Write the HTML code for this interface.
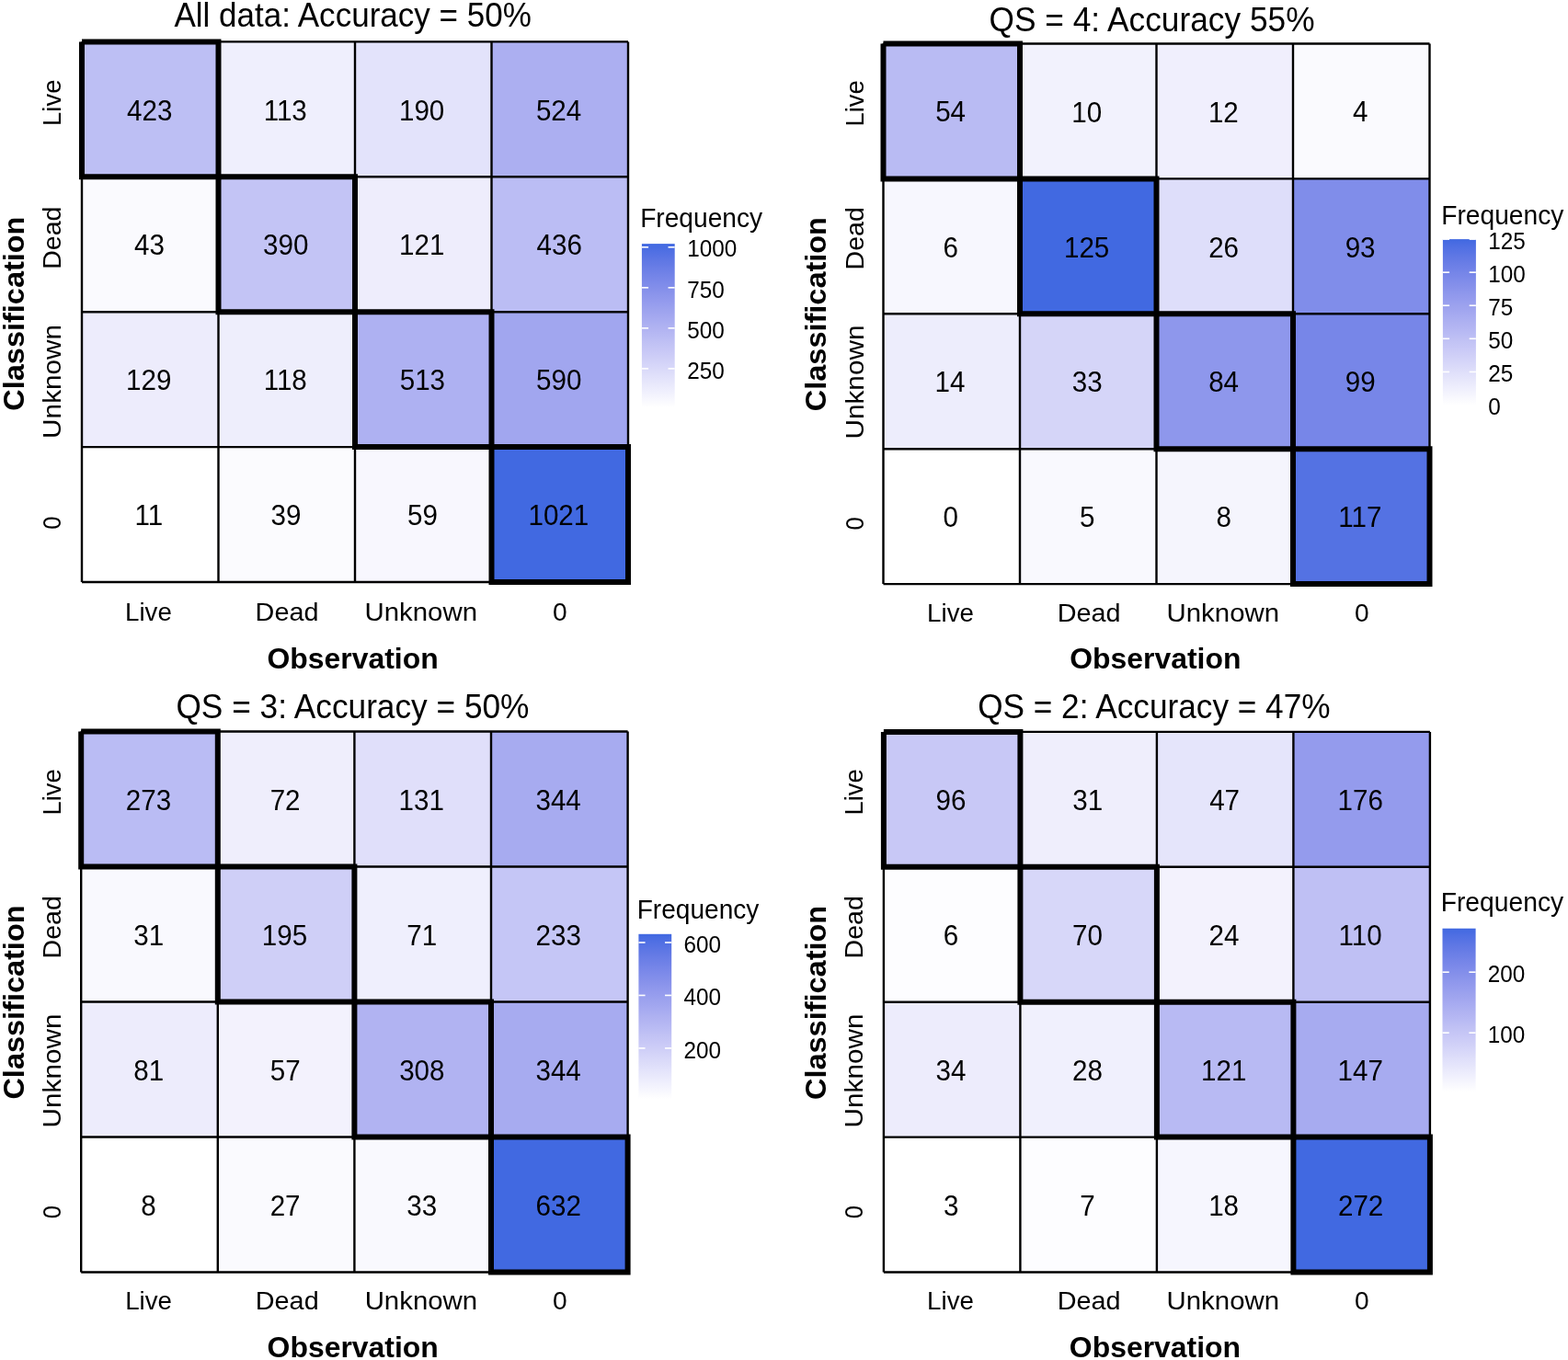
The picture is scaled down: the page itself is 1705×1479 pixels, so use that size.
<!DOCTYPE html>
<html><head><meta charset="utf-8"><title>Confusion matrices</title><style>
html,body{margin:0;padding:0;background:#fff;}
svg{display:block;}
text{font-family:'Liberation Sans',sans-serif;fill:#000;}
text.b{font-weight:bold;}
.grid line{stroke:#000;stroke-width:2.4;}
.grid path.tk{fill:none;stroke:#000;stroke-width:6.0;stroke-linejoin:miter;stroke-linecap:butt;}
.tick line{stroke:#fff;stroke-width:1.6;}
</style></head>
<body><svg width="1705" height="1479" viewBox="0 0 1705 1479">
<defs><linearGradient id="grad_p1" x1="0" y1="0" x2="0" y2="1"><stop offset="0.000" stop-color="#4169e1"/><stop offset="0.025" stop-color="#496ce2"/><stop offset="0.050" stop-color="#5170e3"/><stop offset="0.075" stop-color="#5773e4"/><stop offset="0.100" stop-color="#5e77e4"/><stop offset="0.125" stop-color="#647ae5"/><stop offset="0.150" stop-color="#6a7ee6"/><stop offset="0.175" stop-color="#6f81e7"/><stop offset="0.200" stop-color="#7585e8"/><stop offset="0.225" stop-color="#7a88e9"/><stop offset="0.250" stop-color="#7f8cea"/><stop offset="0.275" stop-color="#848fea"/><stop offset="0.300" stop-color="#8993eb"/><stop offset="0.325" stop-color="#8e97ec"/><stop offset="0.350" stop-color="#939aed"/><stop offset="0.375" stop-color="#979eee"/><stop offset="0.400" stop-color="#9ca2ee"/><stop offset="0.425" stop-color="#a0a5ef"/><stop offset="0.450" stop-color="#a5a9f0"/><stop offset="0.475" stop-color="#a9adf1"/><stop offset="0.500" stop-color="#aeb1f1"/><stop offset="0.525" stop-color="#b2b4f2"/><stop offset="0.550" stop-color="#b6b8f3"/><stop offset="0.575" stop-color="#babcf4"/><stop offset="0.600" stop-color="#bfc0f4"/><stop offset="0.625" stop-color="#c3c4f5"/><stop offset="0.650" stop-color="#c7c7f6"/><stop offset="0.675" stop-color="#cbcbf7"/><stop offset="0.700" stop-color="#cfcff7"/><stop offset="0.725" stop-color="#d3d3f8"/><stop offset="0.750" stop-color="#d7d7f9"/><stop offset="0.775" stop-color="#dbdbf9"/><stop offset="0.800" stop-color="#dfdffa"/><stop offset="0.825" stop-color="#e3e3fb"/><stop offset="0.850" stop-color="#e7e7fb"/><stop offset="0.875" stop-color="#ebebfc"/><stop offset="0.900" stop-color="#efeffd"/><stop offset="0.925" stop-color="#f3f3fd"/><stop offset="0.950" stop-color="#f7f7fe"/><stop offset="0.975" stop-color="#fbfbfe"/><stop offset="1.000" stop-color="#ffffff"/></linearGradient><linearGradient id="grad_p2" x1="0" y1="0" x2="0" y2="1"><stop offset="0.000" stop-color="#4169e1"/><stop offset="0.025" stop-color="#496ce2"/><stop offset="0.050" stop-color="#5170e3"/><stop offset="0.075" stop-color="#5773e4"/><stop offset="0.100" stop-color="#5e77e4"/><stop offset="0.125" stop-color="#647ae5"/><stop offset="0.150" stop-color="#6a7ee6"/><stop offset="0.175" stop-color="#6f81e7"/><stop offset="0.200" stop-color="#7585e8"/><stop offset="0.225" stop-color="#7a88e9"/><stop offset="0.250" stop-color="#7f8cea"/><stop offset="0.275" stop-color="#848fea"/><stop offset="0.300" stop-color="#8993eb"/><stop offset="0.325" stop-color="#8e97ec"/><stop offset="0.350" stop-color="#939aed"/><stop offset="0.375" stop-color="#979eee"/><stop offset="0.400" stop-color="#9ca2ee"/><stop offset="0.425" stop-color="#a0a5ef"/><stop offset="0.450" stop-color="#a5a9f0"/><stop offset="0.475" stop-color="#a9adf1"/><stop offset="0.500" stop-color="#aeb1f1"/><stop offset="0.525" stop-color="#b2b4f2"/><stop offset="0.550" stop-color="#b6b8f3"/><stop offset="0.575" stop-color="#babcf4"/><stop offset="0.600" stop-color="#bfc0f4"/><stop offset="0.625" stop-color="#c3c4f5"/><stop offset="0.650" stop-color="#c7c7f6"/><stop offset="0.675" stop-color="#cbcbf7"/><stop offset="0.700" stop-color="#cfcff7"/><stop offset="0.725" stop-color="#d3d3f8"/><stop offset="0.750" stop-color="#d7d7f9"/><stop offset="0.775" stop-color="#dbdbf9"/><stop offset="0.800" stop-color="#dfdffa"/><stop offset="0.825" stop-color="#e3e3fb"/><stop offset="0.850" stop-color="#e7e7fb"/><stop offset="0.875" stop-color="#ebebfc"/><stop offset="0.900" stop-color="#efeffd"/><stop offset="0.925" stop-color="#f3f3fd"/><stop offset="0.950" stop-color="#f7f7fe"/><stop offset="0.975" stop-color="#fbfbfe"/><stop offset="1.000" stop-color="#ffffff"/></linearGradient><linearGradient id="grad_p3" x1="0" y1="0" x2="0" y2="1"><stop offset="0.000" stop-color="#4169e1"/><stop offset="0.025" stop-color="#496ce2"/><stop offset="0.050" stop-color="#5170e3"/><stop offset="0.075" stop-color="#5773e4"/><stop offset="0.100" stop-color="#5e77e4"/><stop offset="0.125" stop-color="#647ae5"/><stop offset="0.150" stop-color="#6a7ee6"/><stop offset="0.175" stop-color="#6f81e7"/><stop offset="0.200" stop-color="#7585e8"/><stop offset="0.225" stop-color="#7a88e9"/><stop offset="0.250" stop-color="#7f8cea"/><stop offset="0.275" stop-color="#848fea"/><stop offset="0.300" stop-color="#8993eb"/><stop offset="0.325" stop-color="#8e97ec"/><stop offset="0.350" stop-color="#939aed"/><stop offset="0.375" stop-color="#979eee"/><stop offset="0.400" stop-color="#9ca2ee"/><stop offset="0.425" stop-color="#a0a5ef"/><stop offset="0.450" stop-color="#a5a9f0"/><stop offset="0.475" stop-color="#a9adf1"/><stop offset="0.500" stop-color="#aeb1f1"/><stop offset="0.525" stop-color="#b2b4f2"/><stop offset="0.550" stop-color="#b6b8f3"/><stop offset="0.575" stop-color="#babcf4"/><stop offset="0.600" stop-color="#bfc0f4"/><stop offset="0.625" stop-color="#c3c4f5"/><stop offset="0.650" stop-color="#c7c7f6"/><stop offset="0.675" stop-color="#cbcbf7"/><stop offset="0.700" stop-color="#cfcff7"/><stop offset="0.725" stop-color="#d3d3f8"/><stop offset="0.750" stop-color="#d7d7f9"/><stop offset="0.775" stop-color="#dbdbf9"/><stop offset="0.800" stop-color="#dfdffa"/><stop offset="0.825" stop-color="#e3e3fb"/><stop offset="0.850" stop-color="#e7e7fb"/><stop offset="0.875" stop-color="#ebebfc"/><stop offset="0.900" stop-color="#efeffd"/><stop offset="0.925" stop-color="#f3f3fd"/><stop offset="0.950" stop-color="#f7f7fe"/><stop offset="0.975" stop-color="#fbfbfe"/><stop offset="1.000" stop-color="#ffffff"/></linearGradient><linearGradient id="grad_p4" x1="0" y1="0" x2="0" y2="1"><stop offset="0.000" stop-color="#4169e1"/><stop offset="0.025" stop-color="#496ce2"/><stop offset="0.050" stop-color="#5170e3"/><stop offset="0.075" stop-color="#5773e4"/><stop offset="0.100" stop-color="#5e77e4"/><stop offset="0.125" stop-color="#647ae5"/><stop offset="0.150" stop-color="#6a7ee6"/><stop offset="0.175" stop-color="#6f81e7"/><stop offset="0.200" stop-color="#7585e8"/><stop offset="0.225" stop-color="#7a88e9"/><stop offset="0.250" stop-color="#7f8cea"/><stop offset="0.275" stop-color="#848fea"/><stop offset="0.300" stop-color="#8993eb"/><stop offset="0.325" stop-color="#8e97ec"/><stop offset="0.350" stop-color="#939aed"/><stop offset="0.375" stop-color="#979eee"/><stop offset="0.400" stop-color="#9ca2ee"/><stop offset="0.425" stop-color="#a0a5ef"/><stop offset="0.450" stop-color="#a5a9f0"/><stop offset="0.475" stop-color="#a9adf1"/><stop offset="0.500" stop-color="#aeb1f1"/><stop offset="0.525" stop-color="#b2b4f2"/><stop offset="0.550" stop-color="#b6b8f3"/><stop offset="0.575" stop-color="#babcf4"/><stop offset="0.600" stop-color="#bfc0f4"/><stop offset="0.625" stop-color="#c3c4f5"/><stop offset="0.650" stop-color="#c7c7f6"/><stop offset="0.675" stop-color="#cbcbf7"/><stop offset="0.700" stop-color="#cfcff7"/><stop offset="0.725" stop-color="#d3d3f8"/><stop offset="0.750" stop-color="#d7d7f9"/><stop offset="0.775" stop-color="#dbdbf9"/><stop offset="0.800" stop-color="#dfdffa"/><stop offset="0.825" stop-color="#e3e3fb"/><stop offset="0.850" stop-color="#e7e7fb"/><stop offset="0.875" stop-color="#ebebfc"/><stop offset="0.900" stop-color="#efeffd"/><stop offset="0.925" stop-color="#f3f3fd"/><stop offset="0.950" stop-color="#f7f7fe"/><stop offset="0.975" stop-color="#fbfbfe"/><stop offset="1.000" stop-color="#ffffff"/></linearGradient></defs>
<rect width="1705" height="1479" fill="#fff"/>
<g class="grid"><rect x="89" y="45.4" width="148.5" height="146.9" fill="#bdbff4"/><rect x="237.5" y="45.4" width="148.5" height="146.9" fill="#efeffd"/><rect x="386" y="45.4" width="148.5" height="146.9" fill="#e3e3fb"/><rect x="534.5" y="45.4" width="148.5" height="146.9" fill="#acaff1"/><rect x="89" y="192.3" width="148.5" height="146.9" fill="#fafafe"/><rect x="237.5" y="192.3" width="148.5" height="146.9" fill="#c3c4f5"/><rect x="386" y="192.3" width="148.5" height="146.9" fill="#eeedfc"/><rect x="534.5" y="192.3" width="148.5" height="146.9" fill="#bbbdf4"/><rect x="89" y="339.2" width="148.5" height="146.9" fill="#edecfc"/><rect x="237.5" y="339.2" width="148.5" height="146.9" fill="#eeeefc"/><rect x="386" y="339.2" width="148.5" height="146.9" fill="#aeb1f2"/><rect x="534.5" y="339.2" width="148.5" height="146.9" fill="#a1a6ef"/><rect x="89" y="486.1" width="148.5" height="146.9" fill="#ffffff"/><rect x="237.5" y="486.1" width="148.5" height="146.9" fill="#fbfbfe"/><rect x="386" y="486.1" width="148.5" height="146.9" fill="#f8f7fe"/><rect x="534.5" y="486.1" width="148.5" height="146.9" fill="#4169e1"/><line x1="89" y1="45.4" x2="89" y2="633"/><line x1="89" y1="45.4" x2="683" y2="45.4"/><line x1="237.5" y1="45.4" x2="237.5" y2="633"/><line x1="89" y1="192.3" x2="683" y2="192.3"/><line x1="386" y1="45.4" x2="386" y2="633"/><line x1="89" y1="339.2" x2="683" y2="339.2"/><line x1="534.5" y1="45.4" x2="534.5" y2="633"/><line x1="89" y1="486.1" x2="683" y2="486.1"/><line x1="683" y1="45.4" x2="683" y2="633"/><line x1="89" y1="633" x2="683" y2="633"/><path class="tk" d="M89 45.4H237.5V192.3H89V45.4"/><path class="tk" d="M237.5 192.3H386V339.2H237.5V192.3"/><path class="tk" d="M386 339.2H534.5V486.1H386V339.2"/><path class="tk" d="M534.5 486.1H683V633H534.5V486.1"/></g>
<text class="n" style="font-size:29.6px" transform="translate(137.98 130.52) scale(1.0000 1.0300)">423</text>
<text class="n" style="font-size:29.6px" transform="translate(286.63 130.52) scale(1.0000 1.0300)">113</text>
<text class="n" style="font-size:29.6px" transform="translate(433.94 130.52) scale(1.0000 1.0300)">190</text>
<text class="n" style="font-size:29.6px" transform="translate(582.89 130.52) scale(1.0000 1.0300)">524</text>
<text class="n" style="font-size:29.6px" transform="translate(146.12 277.42) scale(1.0000 1.0300)">43</text>
<text class="n" style="font-size:29.6px" transform="translate(286.03 277.42) scale(1.0000 1.0300)">390</text>
<text class="n" style="font-size:29.6px" transform="translate(434.09 277.42) scale(1.0000 1.0300)">121</text>
<text class="n" style="font-size:29.6px" transform="translate(583.48 277.42) scale(1.0000 1.0300)">436</text>
<text class="n" style="font-size:29.6px" transform="translate(137.09 424.32) scale(1.0000 1.0300)">129</text>
<text class="n" style="font-size:29.6px" transform="translate(286.63 424.32) scale(1.0000 1.0300)">118</text>
<text class="n" style="font-size:29.6px" transform="translate(434.68 424.32) scale(1.0000 1.0300)">513</text>
<text class="n" style="font-size:29.6px" transform="translate(583.03 424.32) scale(1.0000 1.0300)">590</text>
<text class="n" style="font-size:29.6px" transform="translate(146.41 571.07) scale(1.0000 1.0300)">11</text>
<text class="n" style="font-size:29.6px" transform="translate(294.47 571.22) scale(1.0000 1.0300)">39</text>
<text class="n" style="font-size:29.6px" transform="translate(442.97 571.22) scale(1.0000 1.0300)">59</text>
<text class="n" style="font-size:29.6px" transform="translate(574.45 571.22) scale(1.0000 1.0300)">1021</text>
<text class="n" style="font-size:35px" transform="translate(189.4 28.7) scale(1.0012 1.0500)">All data: Accuracy = 50%</text>
<text class="n" style="font-size:28.3px" transform="translate(135.98 674.8) scale(0.9795 1.0000)">Live</text>
<text class="n" style="font-size:28.3px" transform="translate(277.6 674.8) scale(1.0177 1.0000)">Dead</text>
<text class="n" style="font-size:28.3px" transform="translate(396.45 674.8) scale(1.0390 1.0000)">Unknown</text>
<text class="n" style="font-size:28.3px" transform="translate(600.88 674.8) scale(0.9938 1.0000)">0</text>
<text class="n" style="font-size:28.3px" transform="translate(65.6 136.89) rotate(-90) scale(0.9691 1.0000)">Live</text>
<text class="n" style="font-size:28.3px" transform="translate(65.6 292.79) rotate(-90) scale(1.0098 1.0000)">Dead</text>
<text class="n" style="font-size:28.3px" transform="translate(65.6 476.88) rotate(-90) scale(1.0513 1.0000)">Unknown</text>
<text class="n" style="font-size:28.3px" transform="translate(65.6 575.73) rotate(-90) scale(0.9055 1.0000)">0</text>
<text class="b" style="font-size:32px" transform="translate(290.42 726.7) scale(0.9975 1.0000)">Observation</text>
<text class="b" style="font-size:32px" transform="translate(25.6 446.7) rotate(-90) scale(1.0151 1.0000)">Classification</text>
<text class="n" style="font-size:28.3px" transform="translate(696.15 246.6) scale(0.9946 1.0500)">Frequency</text>
<rect x="697.9" y="265.1" width="35.8" height="177.9" fill="url(#grad_p1)"/>
<text class="n" style="font-size:24.3px" transform="translate(747.2 411.6) scale(1 1.04)">250</text>
<text class="n" style="font-size:24.3px" transform="translate(747.2 367.56) scale(1 1.04)">500</text>
<text class="n" style="font-size:24.3px" transform="translate(747.2 323.53) scale(1 1.04)">750</text>
<text class="n" style="font-size:24.3px" transform="translate(747.2 279.49) scale(1 1.04)">1000</text>
<g class="tick"><line x1="697.9" y1="400.9" x2="705.06" y2="400.9"/><line x1="726.54" y1="400.9" x2="733.7" y2="400.9"/><line x1="697.9" y1="356.87" x2="705.06" y2="356.87"/><line x1="726.54" y1="356.87" x2="733.7" y2="356.87"/><line x1="697.9" y1="312.83" x2="705.06" y2="312.83"/><line x1="726.54" y1="312.83" x2="733.7" y2="312.83"/><line x1="697.9" y1="268.8" x2="705.06" y2="268.8"/><line x1="726.54" y1="268.8" x2="733.7" y2="268.8"/></g>
<g class="grid"><rect x="960.5" y="47.5" width="148.5" height="146.9" fill="#b9bbf3"/><rect x="1109" y="47.5" width="148.5" height="146.9" fill="#f2f2fd"/><rect x="1257.5" y="47.5" width="148.5" height="146.9" fill="#f0effd"/><rect x="1406" y="47.5" width="148.5" height="146.9" fill="#fafafe"/><rect x="960.5" y="194.4" width="148.5" height="146.9" fill="#f7f7fe"/><rect x="1109" y="194.4" width="148.5" height="146.9" fill="#4169e1"/><rect x="1257.5" y="194.4" width="148.5" height="146.9" fill="#dedefa"/><rect x="1406" y="194.4" width="148.5" height="146.9" fill="#808dea"/><rect x="960.5" y="341.3" width="148.5" height="146.9" fill="#ededfc"/><rect x="1109" y="341.3" width="148.5" height="146.9" fill="#d5d5f8"/><rect x="1257.5" y="341.3" width="148.5" height="146.9" fill="#8e97ec"/><rect x="1406" y="341.3" width="148.5" height="146.9" fill="#7786e8"/><rect x="960.5" y="488.2" width="148.5" height="146.9" fill="#ffffff"/><rect x="1109" y="488.2" width="148.5" height="146.9" fill="#f9f9fe"/><rect x="1257.5" y="488.2" width="148.5" height="146.9" fill="#f5f5fd"/><rect x="1406" y="488.2" width="148.5" height="146.9" fill="#5472e3"/><line x1="960.5" y1="47.5" x2="960.5" y2="635.1"/><line x1="960.5" y1="47.5" x2="1554.5" y2="47.5"/><line x1="1109" y1="47.5" x2="1109" y2="635.1"/><line x1="960.5" y1="194.4" x2="1554.5" y2="194.4"/><line x1="1257.5" y1="47.5" x2="1257.5" y2="635.1"/><line x1="960.5" y1="341.3" x2="1554.5" y2="341.3"/><line x1="1406" y1="47.5" x2="1406" y2="635.1"/><line x1="960.5" y1="488.2" x2="1554.5" y2="488.2"/><line x1="1554.5" y1="47.5" x2="1554.5" y2="635.1"/><line x1="960.5" y1="635.1" x2="1554.5" y2="635.1"/><path class="tk" d="M960.5 47.5H1109V194.4H960.5V47.5"/><path class="tk" d="M1109 194.4H1257.5V341.3H1109V194.4"/><path class="tk" d="M1257.5 341.3H1406V488.2H1257.5V341.3"/><path class="tk" d="M1406 488.2H1554.5V635.1H1406V488.2"/></g>
<text class="n" style="font-size:29.6px" transform="translate(1017.17 132.47) scale(1.0000 1.0300)">54</text>
<text class="n" style="font-size:29.6px" transform="translate(1165.23 132.62) scale(1.0000 1.0300)">10</text>
<text class="n" style="font-size:29.6px" transform="translate(1313.88 132.62) scale(1.0000 1.0300)">12</text>
<text class="n" style="font-size:29.6px" transform="translate(1471.11 132.47) scale(1.0000 1.0300)">4</text>
<text class="n" style="font-size:29.6px" transform="translate(1025.46 279.52) scale(1.0000 1.0300)">6</text>
<text class="n" style="font-size:29.6px" transform="translate(1156.94 279.52) scale(1.0000 1.0300)">125</text>
<text class="n" style="font-size:29.6px" transform="translate(1314.17 279.52) scale(1.0000 1.0300)">26</text>
<text class="n" style="font-size:29.6px" transform="translate(1462.67 279.52) scale(1.0000 1.0300)">93</text>
<text class="n" style="font-size:29.6px" transform="translate(1016.58 426.27) scale(1.0000 1.0300)">14</text>
<text class="n" style="font-size:29.6px" transform="translate(1165.82 426.42) scale(1.0000 1.0300)">33</text>
<text class="n" style="font-size:29.6px" transform="translate(1314.17 426.42) scale(1.0000 1.0300)">84</text>
<text class="n" style="font-size:29.6px" transform="translate(1462.82 426.42) scale(1.0000 1.0300)">99</text>
<text class="n" style="font-size:29.6px" transform="translate(1025.46 573.32) scale(1.0000 1.0300)">0</text>
<text class="n" style="font-size:29.6px" transform="translate(1174.11 573.17) scale(1.0000 1.0300)">5</text>
<text class="n" style="font-size:29.6px" transform="translate(1322.61 573.32) scale(1.0000 1.0300)">8</text>
<text class="n" style="font-size:29.6px" transform="translate(1455.27 573.17) scale(1.0000 1.0300)">117</text>
<text class="n" style="font-size:35px" transform="translate(1075.53 33.5) scale(1.0090 1.0500)">QS = 4: Accuracy 55%</text>
<text class="n" style="font-size:28.3px" transform="translate(1008.08 676.2) scale(0.9795 1.0000)">Live</text>
<text class="n" style="font-size:28.3px" transform="translate(1149.7 676.2) scale(1.0177 1.0000)">Dead</text>
<text class="n" style="font-size:28.3px" transform="translate(1268.55 676.2) scale(1.0390 1.0000)">Unknown</text>
<text class="n" style="font-size:28.3px" transform="translate(1472.97 676.2) scale(0.9938 1.0000)">0</text>
<text class="n" style="font-size:28.3px" transform="translate(938.7 137.54) rotate(-90) scale(0.9691 1.0000)">Live</text>
<text class="n" style="font-size:28.3px" transform="translate(938.7 293.44) rotate(-90) scale(1.0098 1.0000)">Dead</text>
<text class="n" style="font-size:28.3px" transform="translate(938.7 477.53) rotate(-90) scale(1.0513 1.0000)">Unknown</text>
<text class="n" style="font-size:28.3px" transform="translate(938.7 576.38) rotate(-90) scale(0.9055 1.0000)">0</text>
<text class="b" style="font-size:32px" transform="translate(1163.22 726.7) scale(0.9975 1.0000)">Observation</text>
<text class="b" style="font-size:32px" transform="translate(898.1 447.2) rotate(-90) scale(1.0151 1.0000)">Classification</text>
<text class="n" style="font-size:28.3px" transform="translate(1567.14 243.5) scale(0.9976 1.0500)">Frequency</text>
<rect x="1568.9" y="260.1" width="36" height="180.4" fill="url(#grad_p2)"/>
<text class="n" style="font-size:24.3px" transform="translate(1618.2 451.2) scale(1 1.04)">0</text>
<text class="n" style="font-size:24.3px" transform="translate(1618.2 415.12) scale(1 1.04)">25</text>
<text class="n" style="font-size:24.3px" transform="translate(1618.2 379.04) scale(1 1.04)">50</text>
<text class="n" style="font-size:24.3px" transform="translate(1618.2 342.83) scale(1 1.04)">75</text>
<text class="n" style="font-size:24.3px" transform="translate(1618.2 306.88) scale(1 1.04)">100</text>
<text class="n" style="font-size:24.3px" transform="translate(1618.2 270.8) scale(1 1.04)">125</text>
<g class="tick"><line x1="1568.9" y1="440.5" x2="1576.1" y2="440.5"/><line x1="1597.7" y1="440.5" x2="1604.9" y2="440.5"/><line x1="1568.9" y1="404.42" x2="1576.1" y2="404.42"/><line x1="1597.7" y1="404.42" x2="1604.9" y2="404.42"/><line x1="1568.9" y1="368.34" x2="1576.1" y2="368.34"/><line x1="1597.7" y1="368.34" x2="1604.9" y2="368.34"/><line x1="1568.9" y1="332.26" x2="1576.1" y2="332.26"/><line x1="1597.7" y1="332.26" x2="1604.9" y2="332.26"/><line x1="1568.9" y1="296.18" x2="1576.1" y2="296.18"/><line x1="1597.7" y1="296.18" x2="1604.9" y2="296.18"/><line x1="1568.9" y1="260.1" x2="1576.1" y2="260.1"/><line x1="1597.7" y1="260.1" x2="1604.9" y2="260.1"/></g>
<g class="grid"><rect x="88.2" y="795.5" width="148.6" height="147" fill="#babcf4"/><rect x="236.8" y="795.5" width="148.6" height="147" fill="#efeefc"/><rect x="385.4" y="795.5" width="148.6" height="147" fill="#e0dffa"/><rect x="534" y="795.5" width="148.6" height="147" fill="#a7abf0"/><rect x="88.2" y="942.5" width="148.6" height="147" fill="#f9f9fe"/><rect x="236.8" y="942.5" width="148.6" height="147" fill="#cfcff7"/><rect x="385.4" y="942.5" width="148.6" height="147" fill="#efeffd"/><rect x="534" y="942.5" width="148.6" height="147" fill="#c5c6f6"/><rect x="88.2" y="1089.5" width="148.6" height="147" fill="#edecfc"/><rect x="236.8" y="1089.5" width="148.6" height="147" fill="#f3f2fd"/><rect x="385.4" y="1089.5" width="148.6" height="147" fill="#b1b3f2"/><rect x="534" y="1089.5" width="148.6" height="147" fill="#a7abf0"/><rect x="88.2" y="1236.5" width="148.6" height="147" fill="#ffffff"/><rect x="236.8" y="1236.5" width="148.6" height="147" fill="#fafafe"/><rect x="385.4" y="1236.5" width="148.6" height="147" fill="#f9f9fe"/><rect x="534" y="1236.5" width="148.6" height="147" fill="#4169e1"/><line x1="88.2" y1="795.5" x2="88.2" y2="1383.5"/><line x1="88.2" y1="795.5" x2="682.6" y2="795.5"/><line x1="236.8" y1="795.5" x2="236.8" y2="1383.5"/><line x1="88.2" y1="942.5" x2="682.6" y2="942.5"/><line x1="385.4" y1="795.5" x2="385.4" y2="1383.5"/><line x1="88.2" y1="1089.5" x2="682.6" y2="1089.5"/><line x1="534" y1="795.5" x2="534" y2="1383.5"/><line x1="88.2" y1="1236.5" x2="682.6" y2="1236.5"/><line x1="682.6" y1="795.5" x2="682.6" y2="1383.5"/><line x1="88.2" y1="1383.5" x2="682.6" y2="1383.5"/><path class="tk" d="M88.2 795.5H236.8V942.5H88.2V795.5"/><path class="tk" d="M236.8 942.5H385.4V1089.5H236.8V942.5"/><path class="tk" d="M385.4 1089.5H534V1236.5H385.4V1089.5"/><path class="tk" d="M534 1236.5H682.6V1383.5H534V1236.5"/></g>
<text class="n" style="font-size:29.6px" transform="translate(136.78 880.67) scale(1.0000 1.0300)">273</text>
<text class="n" style="font-size:29.6px" transform="translate(293.67 880.67) scale(1.0000 1.0300)">72</text>
<text class="n" style="font-size:29.6px" transform="translate(433.54 880.67) scale(1.0000 1.0300)">131</text>
<text class="n" style="font-size:29.6px" transform="translate(582.44 880.67) scale(1.0000 1.0300)">344</text>
<text class="n" style="font-size:29.6px" transform="translate(145.22 1027.67) scale(1.0000 1.0300)">31</text>
<text class="n" style="font-size:29.6px" transform="translate(284.79 1027.67) scale(1.0000 1.0300)">195</text>
<text class="n" style="font-size:29.6px" transform="translate(442.27 1027.52) scale(1.0000 1.0300)">71</text>
<text class="n" style="font-size:29.6px" transform="translate(582.58 1027.67) scale(1.0000 1.0300)">233</text>
<text class="n" style="font-size:29.6px" transform="translate(145.22 1174.67) scale(1.0000 1.0300)">81</text>
<text class="n" style="font-size:29.6px" transform="translate(293.82 1174.52) scale(1.0000 1.0300)">57</text>
<text class="n" style="font-size:29.6px" transform="translate(434.13 1174.67) scale(1.0000 1.0300)">308</text>
<text class="n" style="font-size:29.6px" transform="translate(582.44 1174.67) scale(1.0000 1.0300)">344</text>
<text class="n" style="font-size:29.6px" transform="translate(153.36 1321.67) scale(1.0000 1.0300)">8</text>
<text class="n" style="font-size:29.6px" transform="translate(293.67 1321.67) scale(1.0000 1.0300)">27</text>
<text class="n" style="font-size:29.6px" transform="translate(442.27 1321.67) scale(1.0000 1.0300)">33</text>
<text class="n" style="font-size:29.6px" transform="translate(582.58 1321.67) scale(1.0000 1.0300)">632</text>
<text class="n" style="font-size:35px" transform="translate(191.44 780.8) scale(1.0073 1.0500)">QS = 3: Accuracy = 50%</text>
<text class="n" style="font-size:28.3px" transform="translate(136.18 1424.4) scale(0.9795 1.0000)">Live</text>
<text class="n" style="font-size:28.3px" transform="translate(277.8 1424.4) scale(1.0177 1.0000)">Dead</text>
<text class="n" style="font-size:28.3px" transform="translate(396.65 1424.4) scale(1.0390 1.0000)">Unknown</text>
<text class="n" style="font-size:28.3px" transform="translate(601.08 1424.4) scale(0.9938 1.0000)">0</text>
<text class="n" style="font-size:28.3px" transform="translate(65.8 886.49) rotate(-90) scale(0.9691 1.0000)">Live</text>
<text class="n" style="font-size:28.3px" transform="translate(65.8 1042.39) rotate(-90) scale(1.0098 1.0000)">Dead</text>
<text class="n" style="font-size:28.3px" transform="translate(65.8 1226.48) rotate(-90) scale(1.0513 1.0000)">Unknown</text>
<text class="n" style="font-size:28.3px" transform="translate(65.8 1325.33) rotate(-90) scale(0.9055 1.0000)">0</text>
<text class="b" style="font-size:32px" transform="translate(290.62 1475.6) scale(0.9975 1.0000)">Observation</text>
<text class="b" style="font-size:32px" transform="translate(25.6 1195.6) rotate(-90) scale(1.0151 1.0000)">Classification</text>
<text class="n" style="font-size:28.3px" transform="translate(692.65 998.5) scale(0.9931 1.0500)">Frequency</text>
<rect x="694.4" y="1015.8" width="35.8" height="179.3" fill="url(#grad_p3)"/>
<text class="n" style="font-size:24.3px" transform="translate(743.5 1150.63) scale(1 1.04)">200</text>
<text class="n" style="font-size:24.3px" transform="translate(743.5 1093.16) scale(1 1.04)">400</text>
<text class="n" style="font-size:24.3px" transform="translate(743.5 1035.69) scale(1 1.04)">600</text>
<g class="tick"><line x1="694.4" y1="1139.93" x2="701.56" y2="1139.93"/><line x1="723.04" y1="1139.93" x2="730.2" y2="1139.93"/><line x1="694.4" y1="1082.46" x2="701.56" y2="1082.46"/><line x1="723.04" y1="1082.46" x2="730.2" y2="1082.46"/><line x1="694.4" y1="1024.99" x2="701.56" y2="1024.99"/><line x1="723.04" y1="1024.99" x2="730.2" y2="1024.99"/></g>
<g class="grid"><rect x="960.9" y="795.9" width="148.5" height="146.9" fill="#c8c8f6"/><rect x="1109.4" y="795.9" width="148.5" height="146.9" fill="#efeefc"/><rect x="1257.9" y="795.9" width="148.5" height="146.9" fill="#e5e5fb"/><rect x="1406.4" y="795.9" width="148.5" height="146.9" fill="#949bed"/><rect x="960.9" y="942.8" width="148.5" height="146.9" fill="#fdfdff"/><rect x="1109.4" y="942.8" width="148.5" height="146.9" fill="#d7d7f9"/><rect x="1257.9" y="942.8" width="148.5" height="146.9" fill="#f3f2fd"/><rect x="1406.4" y="942.8" width="148.5" height="146.9" fill="#bfc0f4"/><rect x="960.9" y="1089.7" width="148.5" height="146.9" fill="#edecfc"/><rect x="1109.4" y="1089.7" width="148.5" height="146.9" fill="#f0f0fd"/><rect x="1257.9" y="1089.7" width="148.5" height="146.9" fill="#b8baf3"/><rect x="1406.4" y="1089.7" width="148.5" height="146.9" fill="#a7abf0"/><rect x="960.9" y="1236.6" width="148.5" height="146.9" fill="#ffffff"/><rect x="1109.4" y="1236.6" width="148.5" height="146.9" fill="#fdfdff"/><rect x="1257.9" y="1236.6" width="148.5" height="146.9" fill="#f6f6fe"/><rect x="1406.4" y="1236.6" width="148.5" height="146.9" fill="#4169e1"/><line x1="960.9" y1="795.9" x2="960.9" y2="1383.5"/><line x1="960.9" y1="795.9" x2="1554.9" y2="795.9"/><line x1="1109.4" y1="795.9" x2="1109.4" y2="1383.5"/><line x1="960.9" y1="942.8" x2="1554.9" y2="942.8"/><line x1="1257.9" y1="795.9" x2="1257.9" y2="1383.5"/><line x1="960.9" y1="1089.7" x2="1554.9" y2="1089.7"/><line x1="1406.4" y1="795.9" x2="1406.4" y2="1383.5"/><line x1="960.9" y1="1236.6" x2="1554.9" y2="1236.6"/><line x1="1554.9" y1="795.9" x2="1554.9" y2="1383.5"/><line x1="960.9" y1="1383.5" x2="1554.9" y2="1383.5"/><path class="tk" d="M960.9 795.9H1109.4V942.8H960.9V795.9"/><path class="tk" d="M1109.4 942.8H1257.9V1089.7H1109.4V942.8"/><path class="tk" d="M1257.9 1089.7H1406.4V1236.6H1257.9V1089.7"/><path class="tk" d="M1406.4 1236.6H1554.9V1383.5H1406.4V1236.6"/></g>
<text class="n" style="font-size:29.6px" transform="translate(1017.57 881.02) scale(1.0000 1.0300)">96</text>
<text class="n" style="font-size:29.6px" transform="translate(1166.37 881.02) scale(1.0000 1.0300)">31</text>
<text class="n" style="font-size:29.6px" transform="translate(1315.17 880.87) scale(1.0000 1.0300)">47</text>
<text class="n" style="font-size:29.6px" transform="translate(1454.49 881.02) scale(1.0000 1.0300)">176</text>
<text class="n" style="font-size:29.6px" transform="translate(1025.86 1027.92) scale(1.0000 1.0300)">6</text>
<text class="n" style="font-size:29.6px" transform="translate(1166.07 1027.92) scale(1.0000 1.0300)">70</text>
<text class="n" style="font-size:29.6px" transform="translate(1314.43 1027.92) scale(1.0000 1.0300)">24</text>
<text class="n" style="font-size:29.6px" transform="translate(1455.53 1027.92) scale(1.0000 1.0300)">110</text>
<text class="n" style="font-size:29.6px" transform="translate(1017.57 1174.82) scale(1.0000 1.0300)">34</text>
<text class="n" style="font-size:29.6px" transform="translate(1166.07 1174.82) scale(1.0000 1.0300)">28</text>
<text class="n" style="font-size:29.6px" transform="translate(1305.99 1174.82) scale(1.0000 1.0300)">121</text>
<text class="n" style="font-size:29.6px" transform="translate(1454.49 1174.67) scale(1.0000 1.0300)">147</text>
<text class="n" style="font-size:29.6px" transform="translate(1026.01 1321.72) scale(1.0000 1.0300)">3</text>
<text class="n" style="font-size:29.6px" transform="translate(1174.36 1321.57) scale(1.0000 1.0300)">7</text>
<text class="n" style="font-size:29.6px" transform="translate(1314.13 1321.72) scale(1.0000 1.0300)">18</text>
<text class="n" style="font-size:29.6px" transform="translate(1454.93 1321.72) scale(1.0000 1.0300)">272</text>
<text class="n" style="font-size:35px" transform="translate(1063.14 780.9) scale(1.0059 1.0500)">QS = 2: Accuracy = 47%</text>
<text class="n" style="font-size:28.3px" transform="translate(1008.08 1424.4) scale(0.9795 1.0000)">Live</text>
<text class="n" style="font-size:28.3px" transform="translate(1149.7 1424.4) scale(1.0177 1.0000)">Dead</text>
<text class="n" style="font-size:28.3px" transform="translate(1268.55 1424.4) scale(1.0390 1.0000)">Unknown</text>
<text class="n" style="font-size:28.3px" transform="translate(1472.97 1424.4) scale(0.9938 1.0000)">0</text>
<text class="n" style="font-size:28.3px" transform="translate(938 886.49) rotate(-90) scale(0.9691 1.0000)">Live</text>
<text class="n" style="font-size:28.3px" transform="translate(938 1042.39) rotate(-90) scale(1.0098 1.0000)">Dead</text>
<text class="n" style="font-size:28.3px" transform="translate(938 1226.48) rotate(-90) scale(1.0513 1.0000)">Unknown</text>
<text class="n" style="font-size:28.3px" transform="translate(938 1325.33) rotate(-90) scale(0.9055 1.0000)">0</text>
<text class="b" style="font-size:32px" transform="translate(1162.82 1475.6) scale(0.9975 1.0000)">Observation</text>
<text class="b" style="font-size:32px" transform="translate(898.1 1196) rotate(-90) scale(1.0151 1.0000)">Classification</text>
<text class="n" style="font-size:28.3px" transform="translate(1566.64 991.3) scale(0.9991 1.0500)">Frequency</text>
<rect x="1568.5" y="1009.7" width="36.1" height="177.5" fill="url(#grad_p4)"/>
<text class="n" style="font-size:24.3px" transform="translate(1617.7 1133.89) scale(1 1.04)">100</text>
<text class="n" style="font-size:24.3px" transform="translate(1617.7 1067.9) scale(1 1.04)">200</text>
<g class="tick"><line x1="1568.5" y1="1123.19" x2="1575.72" y2="1123.19"/><line x1="1597.38" y1="1123.19" x2="1604.6" y2="1123.19"/><line x1="1568.5" y1="1057.21" x2="1575.72" y2="1057.21"/><line x1="1597.38" y1="1057.21" x2="1604.6" y2="1057.21"/></g>
</svg></body></html>
